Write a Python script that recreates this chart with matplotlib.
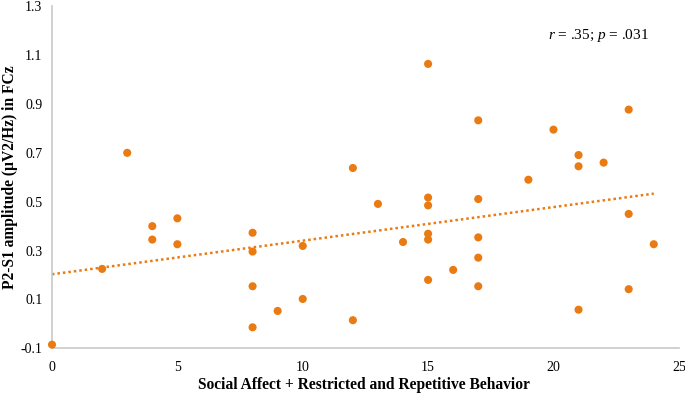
import numpy as np
import matplotlib
matplotlib.use("Agg")
import matplotlib.pyplot as plt

# symptom score (x) vs P2-S1 amplitude (y)
score = [0, 2, 3, 4, 4, 5, 5, 8, 8, 8, 8, 9, 10, 10, 12, 12, 13, 14,
         15, 15, 15, 15, 15, 15, 16, 17, 17, 17, 17, 17, 19, 20,
         21, 21, 21, 22, 23, 23, 23, 24]
amplitude = [-0.085, 0.225, 0.70, 0.40, 0.345, 0.432, 0.326,
             0.373, 0.296, 0.154, -0.014, 0.053, 0.319, 0.102,
             0.638, 0.015, 0.491, 0.335,
             1.064, 0.517, 0.485, 0.369, 0.345, 0.180, 0.221,
             0.833, 0.511, 0.354, 0.271, 0.154, 0.590, 0.795,
             0.691, 0.645, 0.058, 0.660, 0.877, 0.450, 0.142, 0.326]

# trend line (value at x=0 and x=24)
trend_x = [0, 24]
trend_y = [0.203, 0.533]

xticks = [0, 5, 10, 15, 20, 25]
yticks = [-0.1, 0.1, 0.3, 0.5, 0.7, 0.9, 1.1, 1.3]

orange = "#E97B12"
serif = ["Liberation Serif", "DejaVu Serif"]

plt.rcParams["mathtext.fontset"] = "custom"
plt.rcParams["mathtext.it"] = "Liberation Serif:italic"
plt.rcParams["mathtext.rm"] = "Liberation Serif"

fig = plt.figure(figsize=(6.85, 3.95), dpi=100)
ax = fig.add_axes([0.0759, 0.1182, 0.9151, 0.866])

ax.plot(trend_x, trend_y, color=orange, linestyle=(0, (1, 1.2)), linewidth=1.8, zorder=2)
ax.scatter(score, amplitude, s=34, color=orange, edgecolors="none", zorder=3, clip_on=False)

ax.set_xlim(0, 25)
ax.set_ylim(-0.1, 1.3)
ax.set_xticks(xticks)
ax.set_yticks(yticks)
ax.set_xticklabels([str(t) for t in xticks], family=serif, fontsize=10)
ax.set_yticklabels([("%.1f" % t) for t in yticks], family=serif, fontsize=10)
ax.tick_params(length=0, pad=9)
ax.tick_params(axis="y", pad=7)

for side in ["top", "right"]:
    ax.spines[side].set_visible(False)
for side in ["left", "bottom"]:
    ax.spines[side].set_color("#c8c8c8")
    ax.spines[side].set_linewidth(1.2)

ax.set_xlabel("Social Affect + Restricted and Repetitive Behavior",
              family=serif, fontsize=11.2, fontweight="bold")
ax.set_ylabel("P2-S1 amplitude (\u00b5V2/Hz) in FCz",
              family=serif, fontsize=11.2, fontweight="bold")
ax.xaxis.set_label_coords(0.498, -0.107)
ax.yaxis.set_label_coords(-0.067, 0.5)
ax.yaxis.label.set_va("center")
ax.xaxis.label.set_va("center")

ax.text(0.871, 0.915, r"$r$ = .35; $p$ = .031", transform=ax.transAxes,
        ha="center", va="center", family=serif, fontsize=11)

fig.savefig("out.png", dpi=100)
